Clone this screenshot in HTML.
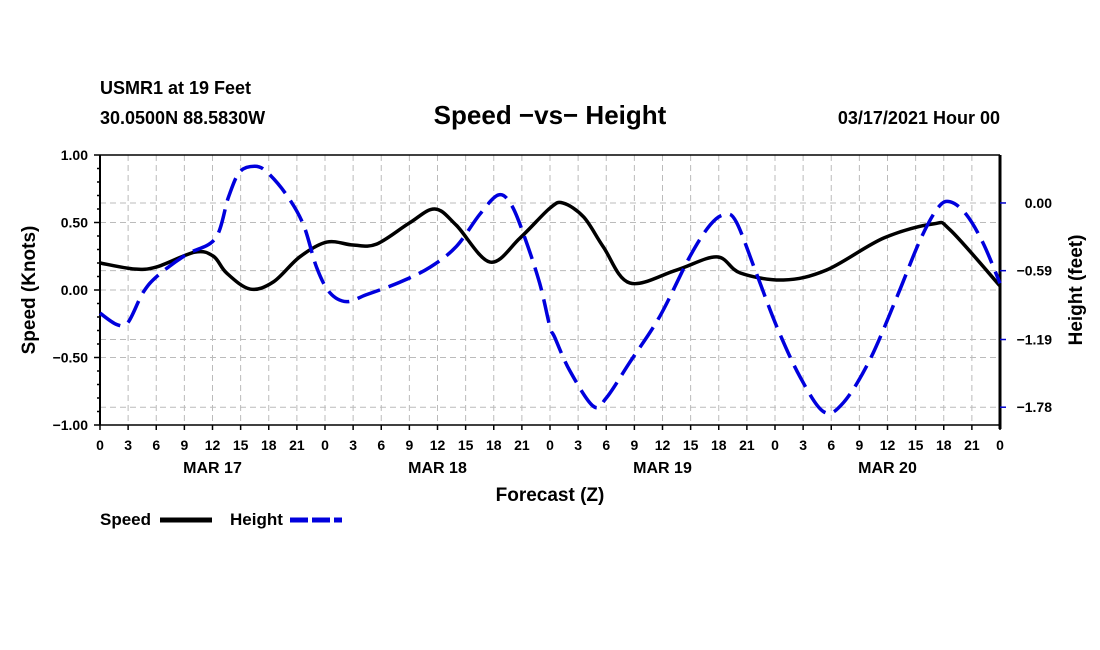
<!DOCTYPE html>
<html><head><meta charset="utf-8"><style>
body{margin:0;background:#fff;}
svg{display:block;font-family:"Liberation Sans",sans-serif;font-weight:bold;}
</style></head><body>
<svg id="chart" width="1100" height="650" viewBox="0 0 1100 650">
<text x="100" y="94" font-size="18">USMR1 at 19 Feet</text>
<text x="100" y="124" font-size="18">30.0500N 88.5830W</text>
<text x="550" y="124" font-size="26" text-anchor="middle">Speed −vs− Height</text>
<text x="1000" y="124" font-size="18" text-anchor="end">03/17/2021 Hour 00</text>
<g id="grid"></g><g id="axes"></g><g id="series"></g>
<text x="550" y="501" font-size="19" text-anchor="middle">Forecast (Z)</text>
<text transform="translate(35,290) rotate(-90)" font-size="19" text-anchor="middle">Speed (Knots)</text>
<text transform="translate(1082,290) rotate(-90)" font-size="19" text-anchor="middle">Height (feet)</text>
<g>
<text x="100" y="525" font-size="17">Speed</text>
<line x1="160" y1="520" x2="212" y2="520" stroke="#000" stroke-width="5"/>
<text x="230" y="525" font-size="17">Height</text>
<line x1="290" y1="520" x2="342" y2="520" stroke="#0000dd" stroke-width="5" stroke-dasharray="18,4"/>
</g>
</svg>
<script>
const speedHours=[0,3.6,6,10.1,12.1,13.5,16,18.5,21.3,24.2,27,29.5,33,35.7,38,41.6,44.8,48,49.4,51.6,53.7,56.5,61.5,65.8,68.3,72.9,77.5,83.6,88.9,90.7,96];
const speedValues=[0.20,0.156,0.17,0.28,0.25,0.126,0.007,0.06,0.245,0.355,0.333,0.34,0.496,0.60,0.48,0.207,0.385,0.607,0.644,0.54,0.318,0.052,0.148,0.245,0.126,0.074,0.148,0.385,0.49,0.444,0.03];
const heightHours=[0,1.8,3,4.6,6.2,9.2,12.3,13.7,14.9,16.5,17.8,19.9,21.7,23.1,24.5,26.3,28.4,32,35.2,38,40.5,42.5,43.9,45.3,46.9,48,48.5,50.1,52.6,54,56.5,59.7,62.9,65.1,66.7,67.9,70,72.2,74.7,77.2,79.3,82.1,85,87.5,89.4,90.7,92.4,94.2,96];
const heightValues=[-0.96,-1.06,-1.04,-0.78,-0.63,-0.45,-0.31,0.05,0.27,0.32,0.27,0.07,-0.19,-0.56,-0.78,-0.86,-0.80,-0.69,-0.56,-0.38,-0.10,0.07,-0.02,-0.30,-0.70,-1.08,-1.17,-1.46,-1.77,-1.70,-1.39,-0.99,-0.47,-0.19,-0.10,-0.17,-0.61,-1.08,-1.52,-1.82,-1.74,-1.37,-0.82,-0.32,-0.04,0.01,-0.10,-0.35,-0.70];
const leftTicks=["1.00","0.50","0.00","-0.50","-1.00"];
const rightTicks=["0.00","-0.59","-1.19","-1.78"];
const hourLabels=["0","3","6","9","12","15","18","21"];
const dayLabels=["MAR 17","MAR 18","MAR 19","MAR 20"];
const X0=100,X1=1000,Y0=155,Y1=425;
const xS=h=>X0+(X1-X0)*h/96;
const yS=v=>Y0+(1-v)/2*(Y1-Y0);
const hMax=0.418,hMin=-1.935;
const yH=v=>Y0+(hMax-v)/(hMax-hMin)*(Y1-Y0);
const NS="http://www.w3.org/2000/svg";
function mk(tag,attrs,parent,text){const e=document.createElementNS(NS,tag);for(const k in attrs)e.setAttribute(k,attrs[k]);if(text!==undefined)e.textContent=text;parent.appendChild(e);return e;}
const grid=document.getElementById('grid'),axes=document.getElementById('axes'),ser=document.getElementById('series');
for(let i=1;i<32;i++){const l=mk('line',{x1:xS(i*3),x2:xS(i*3),y1:Y0,y2:Y1,stroke:'#bbb','stroke-width':1,'stroke-dasharray':'6,4'},grid);

}
leftTicks.forEach(t=>{const v=parseFloat(t);if(Math.abs(v)<1){const l=mk('line',{x1:X0,x2:X1,y1:yS(v),y2:yS(v),stroke:'#bbb','stroke-width':1,'stroke-dasharray':'6,4'},grid);

}});
rightTicks.forEach(t=>{const v=parseFloat(t);const l=mk('line',{x1:X0,x2:X1,y1:yH(v),y2:yH(v),stroke:'#bbb','stroke-width':1,'stroke-dasharray':'6,4'},grid);

});
mk('line',{x1:X0,x2:X1,y1:Y0,y2:Y0,stroke:'#000','stroke-width':1.5},axes);
mk('line',{x1:X0,x2:X1,y1:Y1,y2:Y1,stroke:'#000','stroke-width':1.5},axes);
mk('line',{x1:X0,x2:X0,y1:Y0,y2:Y1,stroke:'#000','stroke-width':2},axes);
mk('line',{x1:X1,x2:X1,y1:Y0,y2:Y1+4,stroke:'#000','stroke-width':3},axes);
for(let i=0;i<=20;i++){const v=1-i*0.1;mk('line',{x1:X0-(i%5==0?6:3),x2:X0,y1:yS(v),y2:yS(v),stroke:'#000','stroke-width':1.5},axes);}
leftTicks.forEach(t=>{const v=parseFloat(t);const e=mk('text',{x:X0-12,y:yS(v)+5,'font-size':14,'text-anchor':'end'},axes,t.replace('-','−'));

});
rightTicks.forEach(t=>{const v=parseFloat(t);mk('line',{x1:X1,x2:X1+6,y1:yH(v),y2:yH(v),stroke:'#0000cc','stroke-width':1.5},axes);
const e=mk('text',{x:X1+52,y:yH(v)+5,'font-size':14,'text-anchor':'end'},axes,t.replace('-','−'));

});
for(let i=0;i<=32;i++){mk('line',{x1:xS(i*3),x2:xS(i*3),y1:Y1,y2:Y1+5,stroke:'#000','stroke-width':1.5},axes);
const e=mk('text',{x:xS(i*3),y:Y1+25,'font-size':14,'text-anchor':'middle'},axes,hourLabels[i%8]);

}
dayLabels.forEach((d,i)=>{const e=mk('text',{x:xS(i*24+12),y:Y1+48,'font-size':16,'text-anchor':'middle'},axes,d);

});
function smooth(pts){let d='M'+pts[0][0]+','+pts[0][1];for(let i=0;i<pts.length-1;i++){const p0=pts[Math.max(0,i-1)],p1=pts[i],p2=pts[i+1],p3=pts[Math.min(pts.length-1,i+2)];
d+=' C'+(p1[0]+(p2[0]-p0[0])/6)+','+(p1[1]+(p2[1]-p0[1])/6)+' '+(p2[0]-(p3[0]-p1[0])/6)+','+(p2[1]-(p3[1]-p1[1])/6)+' '+p2[0]+','+p2[1];}return d;}
const sp=mk('path',{d:smooth(speedHours.map((h,i)=>[xS(h),yS(speedValues[i])])),fill:'none',stroke:'#000','stroke-width':3.5},ser);


const hp=mk('path',{d:smooth(heightHours.map((h,i)=>[xS(h),yH(heightValues[i])])),fill:'none',stroke:'#0000dd','stroke-width':3.5,'stroke-dasharray':'24,9'},ser);


</script>
</body></html>
